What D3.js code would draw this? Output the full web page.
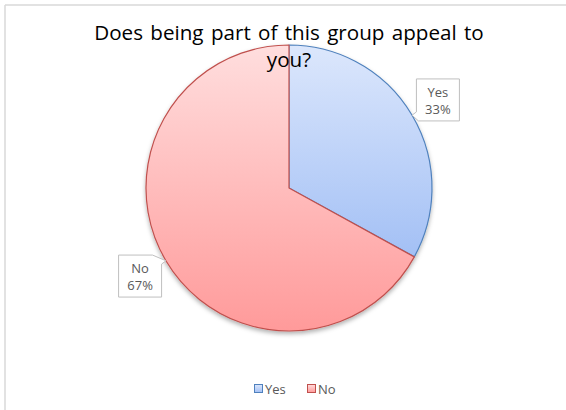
<!DOCTYPE html>
<html>
<head>
<meta charset="utf-8">
<script src="https://cdn.jsdelivr.net/npm/d3@7"></script>
<style>
  html, body { margin: 0; padding: 0; background: #fff; }
  svg { display: block; }
</style>
</head>
<body>
<div id="chart"></div>
<script>
// Survey answers and their shares
const categories = ["Yes", "No"];
const values = [33, 67];
const titleLines = ["Does being part of this group appeal to", "you?"];

const W = 566, H = 410;
const cx = 289, cy = 188, R = 143;
const font = "'Open Sans', 'Liberation Sans', sans-serif";

const fills = {
  Yes: { top: "#dce7fc", bottom: "#a3c0f5", stroke: "#4f81bd" },
  No:  { top: "#ffdede", bottom: "#ff9a9a", stroke: "#c0504d" }
};

const svg = d3.select("#chart").append("svg")
  .attr("width", W).attr("height", H);

const defs = svg.append("defs");
categories.forEach(c => {
  const g = defs.append("linearGradient")
    .attr("id", "grad-" + c)
    .attr("x1", 0).attr("y1", 0).attr("x2", 0).attr("y2", 1);
  g.append("stop").attr("offset", "0%").attr("stop-color", fills[c].top);
  g.append("stop").attr("offset", "100%").attr("stop-color", fills[c].bottom);
});
const shadow = defs.append("filter").attr("id", "pieShadow")
  .attr("x", "-10%").attr("y", "-10%").attr("width", "120%").attr("height", "125%");
shadow.append("feDropShadow")
  .attr("dx", 0).attr("dy", 2.5).attr("stdDeviation", 2)
  .attr("flood-color", "#000").attr("flood-opacity", 0.3);

// Chart-area frame (top and left edges)
svg.append("line").attr("x1", 5).attr("y1", 5).attr("x2", W).attr("y2", 5)
  .attr("stroke", "#d9d9d9").attr("stroke-width", 1.5);
svg.append("line").attr("x1", 5).attr("y1", 5).attr("x2", 5).attr("y2", H)
  .attr("stroke", "#d9d9d9").attr("stroke-width", 1.5);

// Pie
const data = categories.map((c, i) => ({ cat: c, value: values[i] }));
const pie = d3.pie().value(d => d.value).sort(null);
const arcs = pie(data);
const arc = d3.arc().innerRadius(0).outerRadius(R);

const pieG = svg.append("g")
  .attr("transform", `translate(${cx},${cy})`)
  .attr("filter", "url(#pieShadow)");
pieG.selectAll("path.slice").data(arcs).join("path")
  .attr("class", "slice")
  .attr("d", arc)
  .attr("fill", d => `url(#grad-${d.data.cat})`)
  .attr("stroke", d => fills[d.data.cat].stroke)
  .attr("stroke-width", 1.2)
  .attr("stroke-linejoin", "round");

// Title
const title = svg.append("text")
  .attr("text-anchor", "middle")
  .attr("fill", "#000")
  .style("font-family", font)
  .style("word-spacing", "2px");
title.selectAll("tspan").data(titleLines).join("tspan")
  .attr("x", 289)
  .attr("y", (d, i) => 40 + i * 27)
  .text(d => d);
title.style("font-size", "20px");
const firstLine = title.select("tspan").node();
const fs = 20 * 390 / firstLine.getComputedTextLength();
title.style("font-size", fs + "px");

// Callout labels placed along each slice's mid-angle
const fmt = d3.format(".0%");
const total = d3.sum(values);
const boxW = 43, boxH = 42, labelR = 173;

arcs.forEach(a => {
  const mid = (a.startAngle + a.endAngle) / 2;
  const bx = cx + Math.sin(mid) * labelR;
  const by = cy - Math.cos(mid) * labelR;
  const tx = cx + Math.sin(mid) * R;
  const ty = cy - Math.cos(mid) * R;
  const x0 = bx - boxW / 2, x1 = bx + boxW / 2;
  const y0 = by - boxH / 2, y1 = by + boxH / 2;

  // Box outline with a pointer notch at the corner nearest the slice edge
  let pts;
  const n = 9;
  if (tx < x0 && ty > y0 + boxH / 2) {
    pts = [[x0, y0], [x1, y0], [x1, y1], [x0 + 2, y1], [tx, ty], [x0, y1 - n], [x0, y0]];
  } else if (tx > x1 && ty < y0 + boxH / 2) {
    pts = [[x0, y0], [x1 - n, y0], [tx, ty], [x1, y0 + n], [x1, y1], [x0, y1], [x0, y0]];
  } else if (tx < x0) {
    pts = [[x0, y0 + n], [tx, ty], [x0, y0], [x1, y0], [x1, y1], [x0, y1], [x0, y0 + n]];
  } else {
    pts = [[x0, y0], [x1, y0], [x1, y1 - n], [tx, ty], [x1, y1], [x0, y1], [x0, y0]];
  }
  svg.append("path")
    .attr("d", d3.line()(pts) + "Z")
    .attr("fill", "#fff")
    .attr("stroke", "#bfbfbf")
    .attr("stroke-width", 1);

  const t = svg.append("text")
    .attr("text-anchor", "middle")
    .attr("fill", "#595959")
    .style("font-family", font)
    .style("font-size", "13px");
  t.append("tspan").attr("x", bx).attr("y", by - 3).text(a.data.cat);
  t.append("tspan").attr("x", bx).attr("y", by + 14).text(fmt(a.data.value / total));
});

// Legend
const legend = svg.append("g").attr("transform", "translate(254,381)");
const legendX = [0, 53];
categories.forEach((c, i) => {
  const g = legend.append("g").attr("transform", `translate(${legendX[i]},0)`);
  g.append("rect")
    .attr("x", 0.5).attr("y", 3.5).attr("width", 8).attr("height", 8)
    .attr("fill", `url(#grad-${c})`)
    .attr("stroke", fills[c].stroke).attr("stroke-width", 1);
  g.append("text")
    .attr("x", 11).attr("y", 12.5)
    .attr("fill", "#595959")
    .style("font-family", font)
    .style("font-size", "13px")
    .text(c);
});
</script>
</body>
</html>
